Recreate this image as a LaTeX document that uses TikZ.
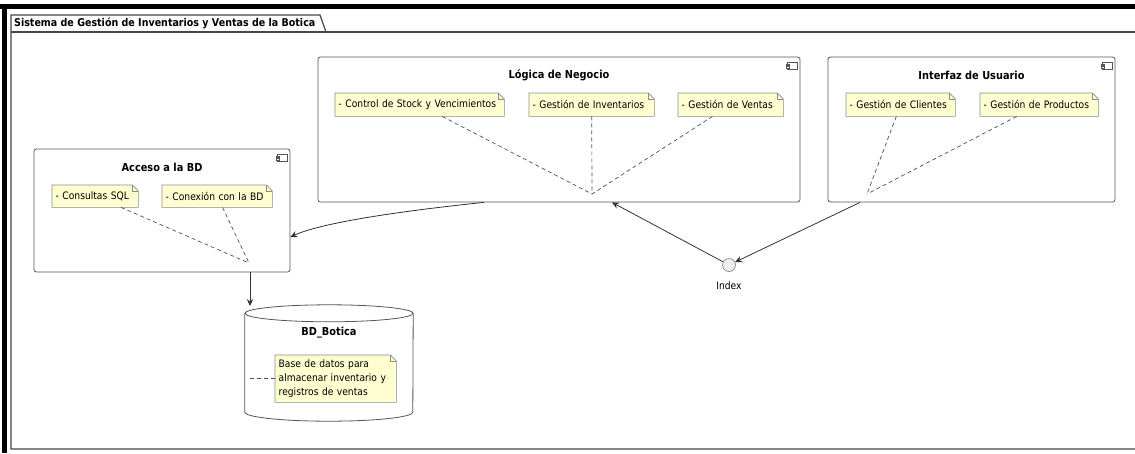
\documentclass[tikz,border=0pt]{standalone}
\usepackage{fontspec}
\setmainfont{DejaVu Sans}[FakeStretch=0.89]
\usetikzlibrary{arrows.meta,backgrounds}

\definecolor{notefill}{RGB}{254,254,208}
\definecolor{notebd}{RGB}{140,140,140}
\definecolor{compbd}{RGB}{85,85,85}
\definecolor{linkc}{RGB}{50,50,50}
\definecolor{leadc}{RGB}{80,80,80}
\definecolor{framec}{RGB}{70,70,70}
\definecolor{ifacefill}{RGB}{238,238,238}

\tikzset{
  comp/.style={draw=compbd, line width=0.8pt, rounded corners=2.5pt, inner sep=0pt},
  ctitle/.style={font=\bfseries\fontsize{11}{12}\selectfont, inner sep=0pt},
  note/.style={draw=none, inner xsep=3.5pt, inner ysep=1pt, align=left,
    font=\fontsize{10.3}{14}\selectfont},
  notebody/.style={draw=notebd, fill=notefill, line width=0.6pt},
  leader/.style={draw=leadc, line width=0.7pt, dash pattern=on 4pt off 3pt},
  link/.style={draw=linkc, line width=0.8pt,
    -{Stealth[length=7pt, width=6.5pt, inset=2.5pt]}},
  framel/.style={draw=framec, line width=1.2pt},
}

% note with folded corner: name, x1, y1, x2, y2, text
\newcommand\notebox[6]{%
  \pgfmathsetmacro\nbw{#4-#2-7}%
  \pgfmathsetmacro\nbh{#5-#3}%
  \node[note, text width=\nbw pt, minimum height=\nbh pt, anchor=north west] (#1) at (#2,#3) {#6};
  \begin{pgfonlayer}{background}
    \path[notebody] (#1.south west) -- (#1.north west) -- ([xshift=-6pt]#1.north east)
      -- ([yshift=-6pt]#1.north east) -- (#1.south east) -- cycle;
  \end{pgfonlayer}
  \draw[notebd, line width=0.6pt] ([xshift=-6pt]#1.north east) |- ([yshift=-6pt]#1.north east);
}

% small component glyph in the upper right corner of a component box
\newcommand\compglyph[1]{%
  \draw[compbd, line width=0.6pt, fill=white]
    ([xshift=-13pt, yshift=-6pt]#1.north east) rectangle ([xshift=-3pt, yshift=-12.5pt]#1.north east);
  \draw[compbd, line width=0.6pt, fill=white]
    ([xshift=-14.5pt, yshift=-7.3pt]#1.north east) rectangle ([xshift=-11.5pt, yshift=-8.6pt]#1.north east);
  \draw[compbd, line width=0.6pt, fill=white]
    ([xshift=-14.5pt, yshift=-9.9pt]#1.north east) rectangle ([xshift=-11.5pt, yshift=-11.2pt]#1.north east);
}

\begin{document}
\begin{tikzpicture}[x=1pt, y=-1pt]
\useasboundingbox (0,0) rectangle (1135,453);
\clip (0,0) rectangle (1135,453);

% outer black border
\draw[line width=4.5pt] (0,6.5) -- (1135,6.5);
\draw[line width=4.5pt] (4.7,4.25) -- (4.7,453);

% package frame with its tab
\draw[framel] (1140,449) -- (11,449) -- (11,15) -- (320,15) -- (326,32);
\draw[framel] (11,32) -- (1140,32);
\node[anchor=west, font=\bfseries\fontsize{10.7}{12}\selectfont, inner sep=0pt] (frametitle) at (14,23.5)
  {Sistema de Gestión de Inventarios y Ventas de la Botica};

% components
\node[comp, minimum width=482pt, minimum height=145pt] (logica) at (559,129.5) {};
\node[comp, minimum width=287pt, minimum height=145pt] (interfaz) at (971.5,129.5) {};
\node[comp, minimum width=256pt, minimum height=123pt] (acceso) at (162,210.5) {};
\compglyph{logica}
\compglyph{interfaz}
\compglyph{acceso}

\node[ctitle] (logicaT) at (559,75) {Lógica de Negocio};
\node[ctitle] (interfazT) at (971.5,75) {Interfaz de Usuario};
\node[ctitle] (accesoT) at (162,167) {Acceso a la BD};

% notes inside the components
\notebox{nstock}{335}{93}{504}{116}{- Control de Stock y Vencimientos}
\notebox{ninv}{529}{93}{654}{116}{- Gestión de Inventarios}
\notebox{nven}{678}{93}{783}{116}{- Gestión de Ventas}
\notebox{ncli}{846}{93}{955}{116}{- Gestión de Clientes}
\notebox{nprod}{980}{93}{1098}{116}{- Gestión de Productos}
\notebox{nsql}{52}{185}{138}{207}{- Consultas SQL}
\notebox{ncon}{162}{185}{272}{207}{- Conexión con la BD}

\coordinate (jlog) at (592,194);
\coordinate (jint) at (867,194);
\coordinate (jacc) at (249,263);
\draw[leader] (nstock) -- (jlog);
\draw[leader] (ninv) -- (jlog);
\draw[leader] (nven) -- (jlog);
\draw[leader] (ncli) -- (jint);
\draw[leader] (nprod) -- (jint);
\draw[leader] (nsql) -- (jacc);
\draw[leader] (ncon) -- (jacc);

% database
\node[minimum width=168pt, minimum height=116pt, inner sep=0pt] (bd) at (329,363) {};
\draw[compbd, line width=0.8pt]
  (bd.north west) ++(0,-8.5pt) coordinate (bdtl) -- ([yshift=9pt]bd.south west)
  arc[start angle=180, end angle=360, x radius=84pt, y radius=9pt]
  -- (bdtl -| bd.east);
\draw[compbd, line width=0.8pt] ([yshift=-8.5pt]bd.north) ellipse[x radius=84pt, y radius=8.5pt];
\node[ctitle] (bdT) at (329,333) {BD\_Botica};
\notebox{nbd}{275}{355}{396}{402}{Base de datos para\\almacenar inventario y\\registros de ventas}
\coordinate (jbd) at (250,378.5);
\draw[leader] (jbd) -- (nbd);

% interface
\node[circle, draw=gray, fill=ifacefill, line width=0.6pt, minimum size=13pt, inner sep=0pt] (index) at (729,265) {};
\node[font=\fontsize{10.3}{12}\selectfont, inner sep=0pt] (indexT) at (729,286) {Index};

% dependencies
\coordinate (bdin) at (250,306);
\draw[link] (acceso.south -| bdin) -- (bdin);
\draw[link] ([xshift=-75pt]logica.south) .. controls (420,209) and (325,221) .. ([yshift=-26.5pt]acceso.east);
\draw[link] (index) -- ([xshift=53pt]logica.south);
\draw[link] ([xshift=-111.5pt]interfaz.south) -- (index);
\end{tikzpicture}
\end{document}
